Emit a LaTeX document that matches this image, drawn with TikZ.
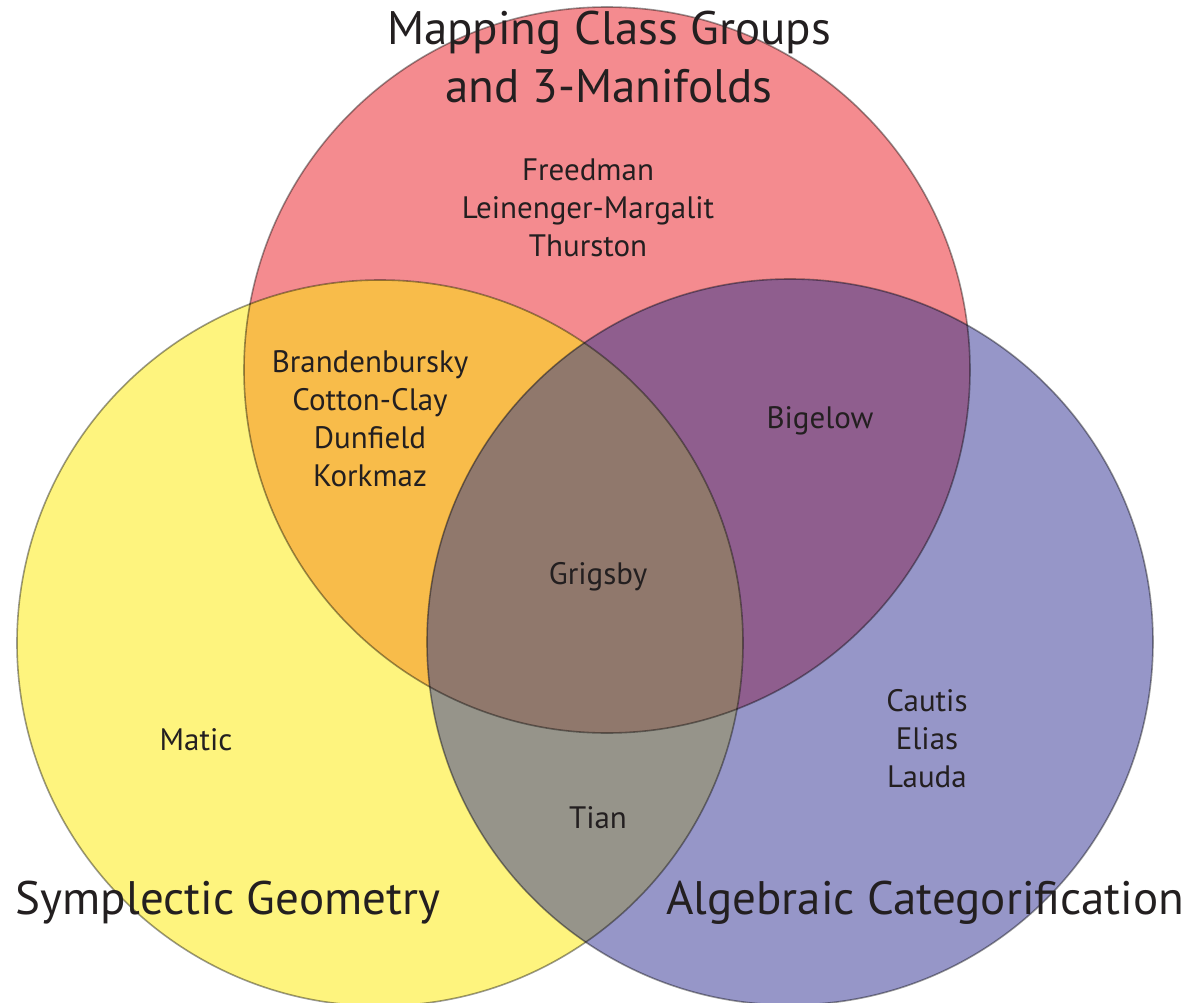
\documentclass[tikz,border=0pt]{standalone}
\usepackage{fontspec}
\setmainfont{PT Sans}
\usepackage{tikz}
\usepackage{xcolor}
\definecolor{mcgred}{HTML}{F48B8F}
\definecolor{sympyellow}{HTML}{FEF47E}
\definecolor{algblue}{HTML}{9696C8}
\definecolor{redyellow}{HTML}{F8BC4A}
\definecolor{redblue}{HTML}{8F5E8E}
\definecolor{yellowblue}{HTML}{96948A}
\definecolor{allthree}{HTML}{90786C}
\definecolor{inktext}{HTML}{231F20}
\newcommand{\venndisc}[2]{\fill[#1] (#2) circle [radius=363pt];}

\begin{document}
\begin{tikzpicture}[x=1pt,y=-1pt,
    names/.style={text=inktext,align=center,font=\fontsize{31}{38}\selectfont},
    field/.style={text=inktext,align=center,font=\fontsize{47}{58}\selectfont},
    rim/.style={draw=black,draw opacity=.4,line width=1.6pt}]
    \useasboundingbox (0,0) rectangle (1197,1003);
    \coordinate (R) at (607,370);
    \coordinate (Y) at (380,643);
    \coordinate (B) at (790,642);
    % single discs
    \venndisc{mcgred}{R}
    \venndisc{sympyellow}{Y}
    \venndisc{algblue}{B}
    % overlaps
    \begin{scope}
      \clip (R) circle [radius=363pt];
      \venndisc{redyellow}{Y}
      \venndisc{redblue}{B}
    \end{scope}
    \begin{scope}
      \clip (Y) circle [radius=363pt];
      \venndisc{yellowblue}{B}
      \clip (R) circle [radius=363pt];
      \venndisc{allthree}{B}
    \end{scope}
    \draw[rim] (R) circle [radius=363pt];
    \draw[rim] (Y) circle [radius=363pt];
    \draw[rim] (B) circle [radius=363pt];
    % labels
    \node[field] (mcg) at (609,57) {Mapping Class Groups\\and 3-Manifolds};
    \node[field] (symp) at (228,903) {Symplectic Geometry};
    \node[field] (alg) at (925,903) {Algebraic Categorification};
    \node[names] (r) at (588,208) {Freedman\\Leinenger-Margalit\\Thurston};
    \node[names] (ry) at (370,419) {Brandenbursky\\Cotton-Clay\\Dunfield\\Korkmaz};
    \node[names] (rb) at (820,421) {Bigelow};
    \node[names] (ryb) at (598,577) {Grigsby};
    \node[names] (y) at (196,740) {Matic};
    \node[names] (yb) at (598,818) {Tian};
    \node[names] (b) at (927,739) {Cautis\\Elias\\Lauda};
\end{tikzpicture}
\end{document}
